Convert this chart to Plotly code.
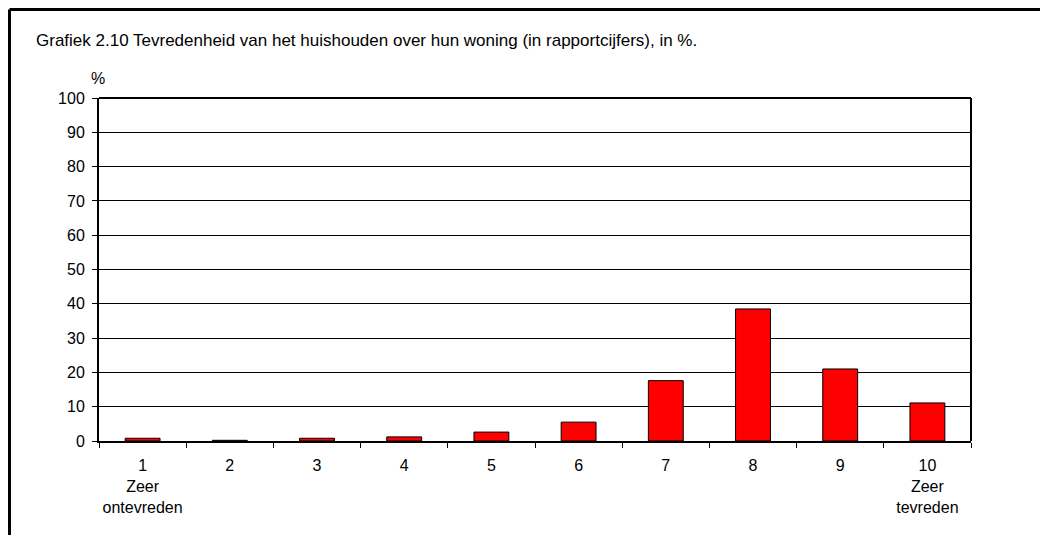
import plotly.graph_objects as go

categories = ["1<br>Zeer<br>ontevreden", "2", "3", "4", "5", "6", "7", "8", "9", "10<br>Zeer<br>tevreden"]
values = [0.8, 0.2, 0.8, 1.2, 2.6, 5.5, 17.6, 38.5, 21.0, 11.1]
y_ticks = [0, 10, 20, 30, 40, 50, 60, 70, 80, 90, 100]
title_text = "Grafiek 2.10 Tevredenheid van het huishouden over hun woning (in rapportcijfers), in %."

OFF = 8  # default body margin of the page
W, H = 1048 - OFF, 535 - OFF
# plot area in screen pixels: left 99, right 971, top 98, bottom 441
L = 99 - OFF
T = 98 - OFF
R = W - (971 - OFF)
B = H - (441 - OFF)
pw, ph = W - L - R, H - T - B

def px(x):
    return (x - OFF - L) / pw

def py(y):
    return (H - B - (y - OFF)) / ph

fig = go.Figure()
fig.add_trace(go.Bar(
    x=categories, y=values,
    marker=dict(color="#ff0000", line=dict(color="black", width=1)),
    width=0.4,
))

font = dict(family="Liberation Sans, Arial, sans-serif", size=16, color="black")
tfont = dict(family="Liberation Sans, Arial, sans-serif", size=17, color="black")

fig.update_layout(
    width=W, height=H,
    margin=dict(l=L, r=R, t=T, b=B, pad=0, autoexpand=False),
    paper_bgcolor="white", plot_bgcolor="white",
    showlegend=False,
    font=font,
    xaxis=dict(
        type="category",
        tickson="boundaries",
        ticks="outside", ticklen=5, tickcolor="black", tickwidth=1,
        showline=True, linecolor="black", linewidth=2,
        showgrid=False, zeroline=False,
        tickfont=font,
        tickangle=0,
        automargin=False,
        ticklabelstandoff=9,
    ),
    yaxis=dict(
        range=[0, 100],
        tickvals=y_ticks,
        ticks="outside", ticklen=5, tickcolor="black", tickwidth=1,
        showline=True, linecolor="black", linewidth=2,
        showgrid=True, gridcolor="black", gridwidth=1,
        zeroline=False,
        tickfont=font,
        automargin=False,
        ticklabelstandoff=4,
    ),
)

# plot area top and right border
fig.add_shape(type="line", xref="paper", yref="paper", x0=0, x1=1, y0=1, y1=1,
              line=dict(color="black", width=2))
fig.add_shape(type="line", xref="paper", yref="paper", x0=1, x1=1, y0=0, y1=1,
              line=dict(color="black", width=2))

# outer frame (left and top visible)
fx, fy = px(9.5), py(9.5)
fig.add_shape(type="line", xref="paper", yref="paper", x0=fx, x1=fx, y0=py(560), y1=fy,
              line=dict(color="black", width=3))
fig.add_shape(type="line", xref="paper", yref="paper", x0=fx, x1=px(1080), y0=fy, y1=fy,
              line=dict(color="black", width=3))

fig.add_annotation(text=title_text, xref="paper", yref="paper", x=px(34), y=py(40),
                   xanchor="left", yanchor="middle", showarrow=False, font=tfont)
fig.add_annotation(text="%", xref="paper", yref="paper", x=px(97.5), y=py(78),
                   xanchor="center", yanchor="middle", showarrow=False, font=font)

fig.write_html("out.html")
